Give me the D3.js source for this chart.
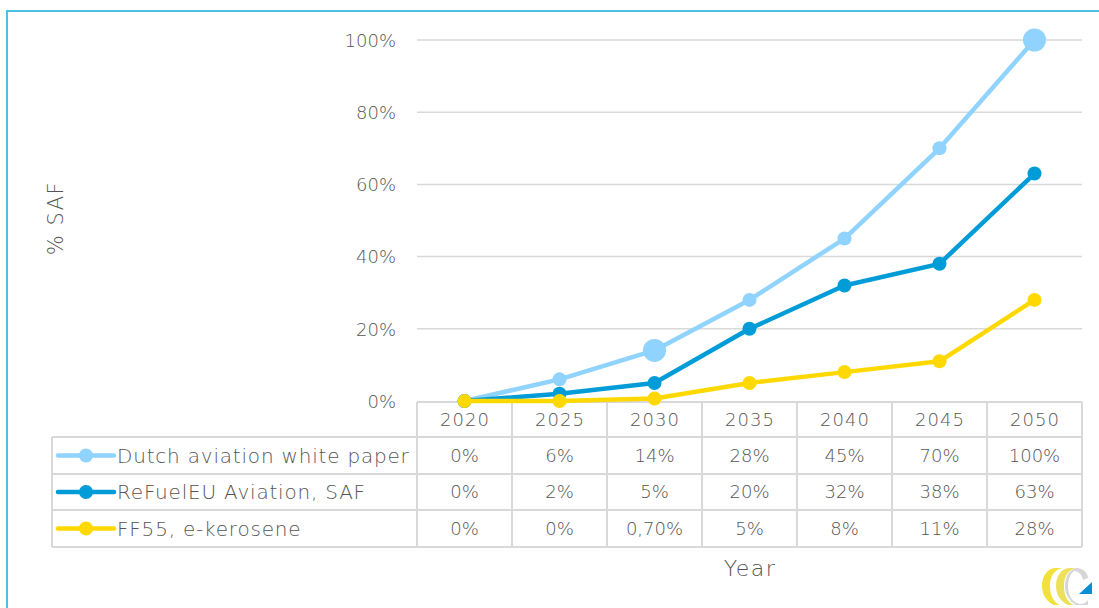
<!DOCTYPE html>
<html><head><meta charset="utf-8">
<script src="https://cdn.jsdelivr.net/npm/d3@7/dist/d3.min.js"></script>
<style>
html,body{margin:0;padding:0;background:#fff;}
svg{display:block;}
text{font-family:"DejaVu Sans","Lato",sans-serif;font-weight:200;fill:#555;}
</style></head>
<body>
<svg id="chart" width="1099" height="608"></svg>
<script>
const years = ["2020","2025","2030","2035","2040","2045","2050"];
const seriesNames = ["Dutch aviation white paper","ReFuelEU Aviation, SAF","FF55, e-kerosene"];
const dutchValues = [0, 6, 14, 28, 45, 70, 100];
const refuelValues = [0, 2, 5, 20, 32, 38, 63];
const ff55Values = [0, 0, 0.7, 5, 8, 11, 28];
const dutchLabels = ["0%","6%","14%","28%","45%","70%","100%"];
const refuelLabels = ["0%","2%","5%","20%","32%","38%","63%"];
const ff55Labels = ["0%","0%","0,70%","5%","8%","11%","28%"];
const yTicks = [0, 20, 40, 60, 80, 100];
const seriesColors = ["#8FD3FE","#009CD8","#FFD800"];
const bigMarkerYears = ["2030","2050"];

const series = [
  {name: seriesNames[0], values: dutchValues, labels: dutchLabels, color: seriesColors[0], big: bigMarkerYears},
  {name: seriesNames[1], values: refuelValues, labels: refuelLabels, color: seriesColors[1], big: []},
  {name: seriesNames[2], values: ff55Values, labels: ff55Labels, color: seriesColors[2], big: []}
];

const svg = d3.select("#chart");
const pLeft = 417, pRight = 1082, pTop = 40, pBottom = 401;
const x = d3.scaleBand().domain(years).range([pLeft, pRight]).padding(0);
const y = d3.scaleLinear().domain([0, 100]).range([pBottom, pTop]);

// frame
svg.append("path").attr("d", "M7,608 L7,11 L1099,11")
  .attr("fill","none").attr("stroke","#4DBFE9").attr("stroke-width",2);

// gridlines
svg.append("g").selectAll("line").data(yTicks.filter(d => d > 0)).join("line")
  .attr("x1", pLeft).attr("x2", pRight)
  .attr("y1", d => y(d)).attr("y2", d => y(d))
  .attr("stroke","#D9D9D9").attr("stroke-width",1.5);

// y axis labels
const yAxis = d3.axisLeft(y).tickValues(yTicks).tickFormat(d => d + "%").tickSize(0).tickPadding(0);
const ga = svg.append("g").attr("transform", `translate(${pLeft - 21},0)`).call(yAxis);
ga.select(".domain").remove();
ga.selectAll("text").attr("font-size", 18).style("font-family","'DejaVu Sans',Lato,sans-serif").style("font-weight",200).attr("fill","#555").attr("dy","0.35em");

// table
const rowTops = [402, 437, 474, 510, 547];
const tbl = svg.append("g").attr("stroke","#D9D9D9").attr("stroke-width",2).attr("fill","none");
tbl.append("line").attr("x1", pLeft).attr("x2", pRight).attr("y1", rowTops[0]).attr("y2", rowTops[0]);
for (let i = 1; i < rowTops.length; i++) {
  tbl.append("line").attr("x1", 52).attr("x2", pRight).attr("y1", rowTops[i]).attr("y2", rowTops[i]);
}
const bounds = years.map(d => x(d)).concat([x(years[years.length-1]) + x.bandwidth()]);
bounds.forEach(b => {
  tbl.append("line").attr("x1", b).attr("x2", b).attr("y1", rowTops[0]).attr("y2", rowTops[4]);
});
tbl.append("line").attr("x1", 52).attr("x2", 52).attr("y1", rowTops[1]).attr("y2", rowTops[4]);

// header labels
svg.append("g").selectAll("text").data(years).join("text")
  .attr("x", d => x(d) + x.bandwidth()/2 + 0.5).attr("y", (rowTops[0]+rowTops[1])/2)
  .attr("text-anchor","middle").attr("dy","0.36em").attr("font-size",18)
  .attr("letter-spacing", 1).text(d => d);

// rows
series.forEach((s, i) => {
  const cy = (rowTops[i+1] + rowTops[i+2]) / 2;
  const g = svg.append("g");
  g.append("line").attr("x1", 58).attr("x2", 114).attr("y1", cy).attr("y2", cy)
    .attr("stroke", s.color).attr("stroke-width", 4.5).attr("stroke-linecap","round");
  g.append("circle").attr("cx", 86).attr("cy", cy).attr("r", 7).attr("fill", s.color);
  g.append("text").attr("x", 117).attr("y", cy).attr("dy","0.36em").attr("font-size",20)
    .attr("letter-spacing", 0.8).text(s.name);
  g.selectAll("text.v").data(s.labels).join("text").attr("class","v")
    .attr("x", (d, j) => x(years[j]) + x.bandwidth()/2).attr("y", cy).attr("dy","0.36em")
    .attr("text-anchor","middle").attr("font-size",18).text(d => d);
});

// lines
const line = d3.line().x((d, j) => x(years[j]) + x.bandwidth()/2).y(d => y(d));
series.forEach(s => {
  svg.append("path").datum(s.values).attr("d", line)
    .attr("fill","none").attr("stroke", s.color).attr("stroke-width", 4.5).attr("stroke-linejoin","round");
  svg.append("g").selectAll("circle").data(s.values).join("circle")
    .attr("cx", (d, j) => x(years[j]) + x.bandwidth()/2).attr("cy", d => y(d))
    .attr("r", (d, j) => s.big.includes(years[j]) ? 11.5 : 7)
    .attr("fill", s.color);
});

// axis titles
svg.append("text").attr("transform","translate(55,218) rotate(-90)")
  .attr("text-anchor","middle").attr("dy","0.36em").attr("font-size",21)
  .attr("letter-spacing", 1.5).text("% SAF");
svg.append("text").attr("x", 750).attr("y", 568).attr("text-anchor","middle").attr("dy","0.36em")
  .attr("font-size",22).attr("letter-spacing", 1.5).text("Year");

// logo
const logo = svg.append("g").attr("transform","translate(1040,566)");
logo.append("path").attr("d","M2,20 C2,9 8,2 16,2 L22,2 C13,4 10,12 10,20 C10,29 13,36 20,39 L14,39 C7,36 2,29 2,20 Z").attr("fill","#F2E13A");
logo.append("path").attr("d","M16,20 C16,9 22,2 30,2 L36,2 C27,4 24,12 24,20 C24,29 27,36 34,39 L28,39 C21,36 16,29 16,20 Z").attr("fill","#EDE05A");
logo.append("path").attr("d","M36,2 C44,2 48,8 48,12 L43,14 C42,8 38,5 34,5 C30,8 28,14 28,20 C28,30 33,37 40,38 C44,38 47,36 48,34 L48,39 L36,39 C29,35 25,28 25,20 C25,11 29,4 36,2 Z").attr("fill","#D6D6D6");
logo.append("path").attr("d","M39,28 L52,16 L52,28 Z").attr("fill","#0A8FD4");
</script>
</body></html>
